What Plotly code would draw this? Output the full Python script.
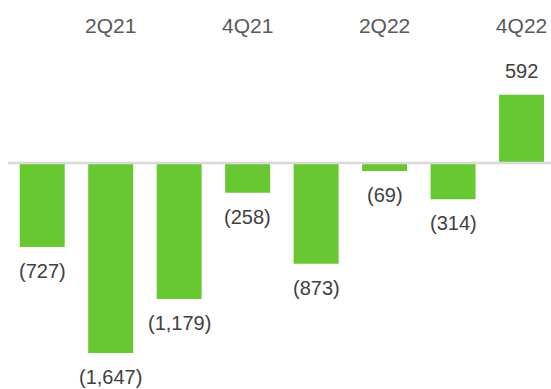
import plotly.graph_objects as go

categories = ["1Q21", "2Q21", "3Q21", "4Q21", "1Q22", "2Q22", "3Q22", "4Q22"]
values = [-727, -1647, -1179, -258, -873, -69, -314, 592]
tick_labels = ["2Q21", "4Q21", "2Q22", "4Q22"]

def fmt(v):
    return f"({abs(v):,})" if v < 0 else f"{v:,}"

fig = go.Figure()
fig.add_trace(go.Bar(
    x=categories, y=values, width=0.657,
    marker=dict(color="#67C832", line=dict(width=0)),
    hoverinfo="skip",
))

for c, v in zip(categories, values):
    fig.add_annotation(
        x=c, y=v, xref="x", yref="y", text=fmt(v), showarrow=False,
        yanchor="middle", yshift=24 if v > 0 else -24, borderpad=0,
        font=dict(family="Liberation Sans, Arial, sans-serif", size=20, color="#404040"),
    )

fig.add_shape(type="line", xref="paper", yref="y", x0=0, x1=1, y0=0, y1=0,
              line=dict(color="#D9D9D9", width=2.5), layer="above")

fig.update_layout(
    width=551, height=389,
    margin=dict(l=8, r=0, t=50, b=0),
    paper_bgcolor="white", plot_bgcolor="white",
    showlegend=False,
    xaxis=dict(
        type="category", side="top", range=[-0.5, 7.43],
        tickmode="array", tickvals=tick_labels, ticktext=tick_labels,
        ticks="outside", ticklen=8, tickcolor="rgba(0,0,0,0)",
        showgrid=False, zeroline=False, showline=False,
        tickfont=dict(family="Liberation Sans, Arial, sans-serif", size=21, color="#595959"),
    ),
    yaxis=dict(range=[-1958, 979], visible=False, showgrid=False, zeroline=False),
)

fig.write_html("out.html")
